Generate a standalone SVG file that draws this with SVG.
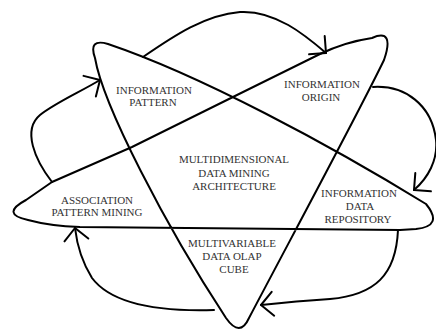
<svg xmlns="http://www.w3.org/2000/svg" width="436" height="329" viewBox="0 0 436 329">
<defs>
<style>
.ln{fill:none;stroke:#000;stroke-width:2;stroke-linecap:round;stroke-linejoin:round}
.t{font-family:"Liberation Serif","Times New Roman",serif;font-size:11px;fill:#333;text-anchor:middle}
</style>
<marker id="ah" markerUnits="userSpaceOnUse" markerWidth="40" markerHeight="40" refX="0" refY="0" viewBox="-20 -20 40 40" orient="auto" overflow="visible">
<path d="M-12,-12 L0,0 L-12,12" fill="none" stroke="#000" stroke-width="2" stroke-linecap="round" stroke-linejoin="round"/>
</marker>
</defs>
<rect width="436" height="329" fill="#fff"/>
<g id="star">
<path class="ln" d="M372,38 Q345,42 320,54 L235,96 L132,147 L52,182 L26,200 Q0,214 28,220 Q50,226 80,227 L400,230 L416,229 Q444,226 426,204 C330,145 200,75 108,44 Q88,38 95,58 C103,105 165,225 226,318 Q240,338 249,318 C290,240 360,110 384,60 Q395,28 372,38 Z"/>
</g>
<g id="connectors">
<path class="ln" marker-end="url(#ah)" d="M143,57 C175,35 205,15 240,12 C275,10 305,35 326,53"/>
<path class="ln" marker-end="url(#ah)" d="M373,87 C405,85 432,105 436,140 C438,160 428,178 414,190"/>
<path class="ln" marker-end="url(#ah)" d="M398,230 C396,275 375,295 330,299 C300,301 280,303 261,305"/>
<path class="ln" marker-end="url(#ah)" d="M214,310 C150,312 110,302 92,278 C82,262 77,245 75,228"/>
<path class="ln" marker-end="url(#ah)" d="M52,182 C35,160 22,130 40,115 C55,103 80,92 100,80"/>
</g>
<g id="information-pattern">
<text class="t" x="154" y="94">INFORMATION</text>
<text class="t" x="153" y="106">PATTERN</text>
</g>
<g id="information-origin">
<text class="t" x="322" y="88">INFORMATION</text>
<text class="t" x="321" y="101">ORIGIN</text>
</g>
<g id="association-pattern-mining">
<text class="t" x="97" y="204">ASSOCIATION</text>
<text class="t" x="97" y="216">PATTERN MINING</text>
</g>
<g id="information-data-repository">
<text class="t" x="359" y="197">INFORMATION</text>
<text class="t" x="360" y="210">DATA</text>
<text class="t" x="358" y="223">REPOSITORY</text>
</g>
<g id="multivariable-data-olap-cube">
<text class="t" x="232" y="247">MULTIVARIABLE</text>
<text class="t" x="232" y="260">DATA OLAP</text>
<text class="t" x="234" y="273">CUBE</text>
</g>
<g id="multidimensional-architecture">
<text class="t" x="234" y="163">MULTIDIMENSIONAL</text>
<text class="t" x="234" y="177">DATA MINING</text>
<text class="t" x="234" y="190">ARCHITECTURE</text>
</g>
</svg>
